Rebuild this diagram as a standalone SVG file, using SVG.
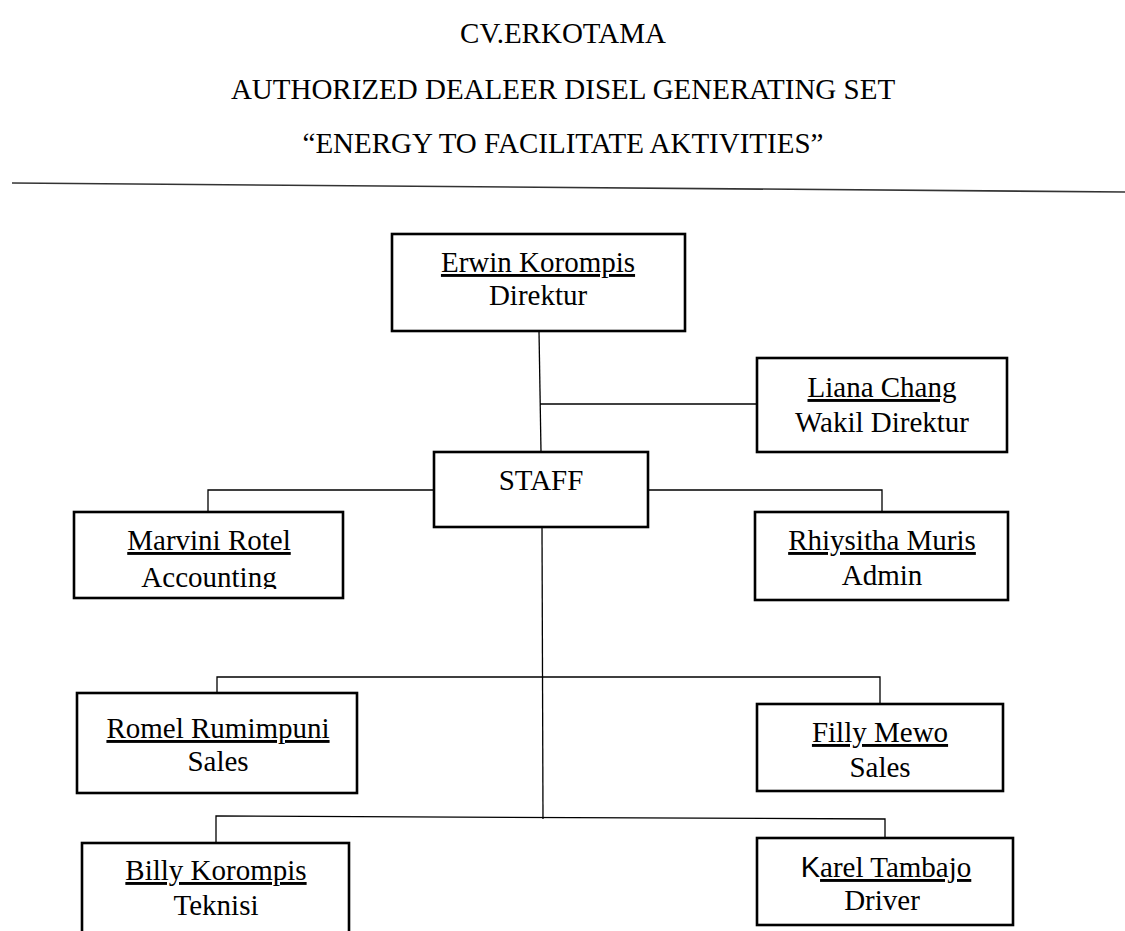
<svg xmlns="http://www.w3.org/2000/svg" width="1125" height="931" viewBox="0 0 1125 931">
<defs>
<style>
.t{font-family:"Liberation Serif","Times New Roman",serif;font-size:29px;fill:#000;text-anchor:middle}
.u{text-decoration:underline}
.box{fill:#fff;stroke:#000;stroke-width:2.6}
.c{fill:none;stroke:#000;stroke-width:1.3}
</style>
<clipPath id="clipAcc"><rect x="74" y="512" width="269" height="77"/></clipPath>
</defs>
<rect width="1125" height="931" fill="#fff"/>
<g id="header">
<text class="t" x="563" y="43">CV.ERKOTAMA</text>
<text class="t" x="563" y="99">AUTHORIZED DEALEER DISEL GENERATING SET</text>
<text class="t" x="563" y="153">“ENERGY TO FACILITATE AKTIVITIES”</text>
<line x1="12" y1="183" x2="1125" y2="192" stroke="#333" stroke-width="1.6"/>
</g>
<g id="connectors">
<polyline class="c" points="539,331 541,452"/>
<polyline class="c" points="540,404 757,404"/>
<polyline class="c" points="434,490 208,490 208,512"/>
<polyline class="c" points="648,490 882,490 882,512"/>
<polyline class="c" points="542,527 543,819"/>
<polyline class="c" points="217,693 217,677 880,677 880,704"/>
<polyline class="c" points="216,843 216,816 885,819 885,838"/>
</g>
<g id="erwin">
<rect class="box" x="392" y="234" width="293" height="97"/>
<text class="t u" x="538" y="272">Erwin Korompis</text>
<text class="t" x="538" y="305">Direktur</text>
</g>
<g id="liana">
<rect class="box" x="757" y="358" width="250" height="94"/>
<text class="t u" x="882" y="397">Liana Chang</text>
<text class="t" x="882" y="432">Wakil Direktur</text>
</g>
<g id="staff">
<rect class="box" x="434" y="452" width="214" height="75"/>
<text class="t" x="541" y="490">STAFF</text>
</g>
<g id="marvini">
<rect class="box" x="74" y="512" width="269" height="86"/>
<text class="t u" x="209" y="550">Marvini Rotel</text>
<text class="t" x="209" y="587" clip-path="url(#clipAcc)">Accounting</text>
</g>
<g id="rhiysitha">
<rect class="box" x="755" y="512" width="253" height="88"/>
<text class="t u" x="882" y="550">Rhiysitha Muris</text>
<text class="t" x="882" y="585">Admin</text>
</g>
<g id="romel">
<rect class="box" x="77" y="693" width="280" height="100"/>
<text class="t u" x="218" y="738">Romel Rumimpuni</text>
<text class="t" x="218" y="771">Sales</text>
</g>
<g id="filly">
<rect class="box" x="757" y="704" width="246" height="87"/>
<text class="t u" x="880" y="742">Filly Mewo</text>
<text class="t" x="880" y="777">Sales</text>
</g>
<g id="billy">
<rect class="box" x="82" y="843" width="267" height="100"/>
<text class="t u" x="216" y="880">Billy Korompis</text>
<text class="t" x="216" y="915">Teknisi</text>
</g>
<g id="karel">
<rect class="box" x="757" y="838" width="256" height="87"/>
<text class="t" x="886" y="877"><tspan font-family="'Liberation Sans',Arial,sans-serif">K</tspan><tspan class="u">arel Tambajo</tspan></text>
<text class="t" x="882" y="910">Driver</text>
</g>
</svg>
